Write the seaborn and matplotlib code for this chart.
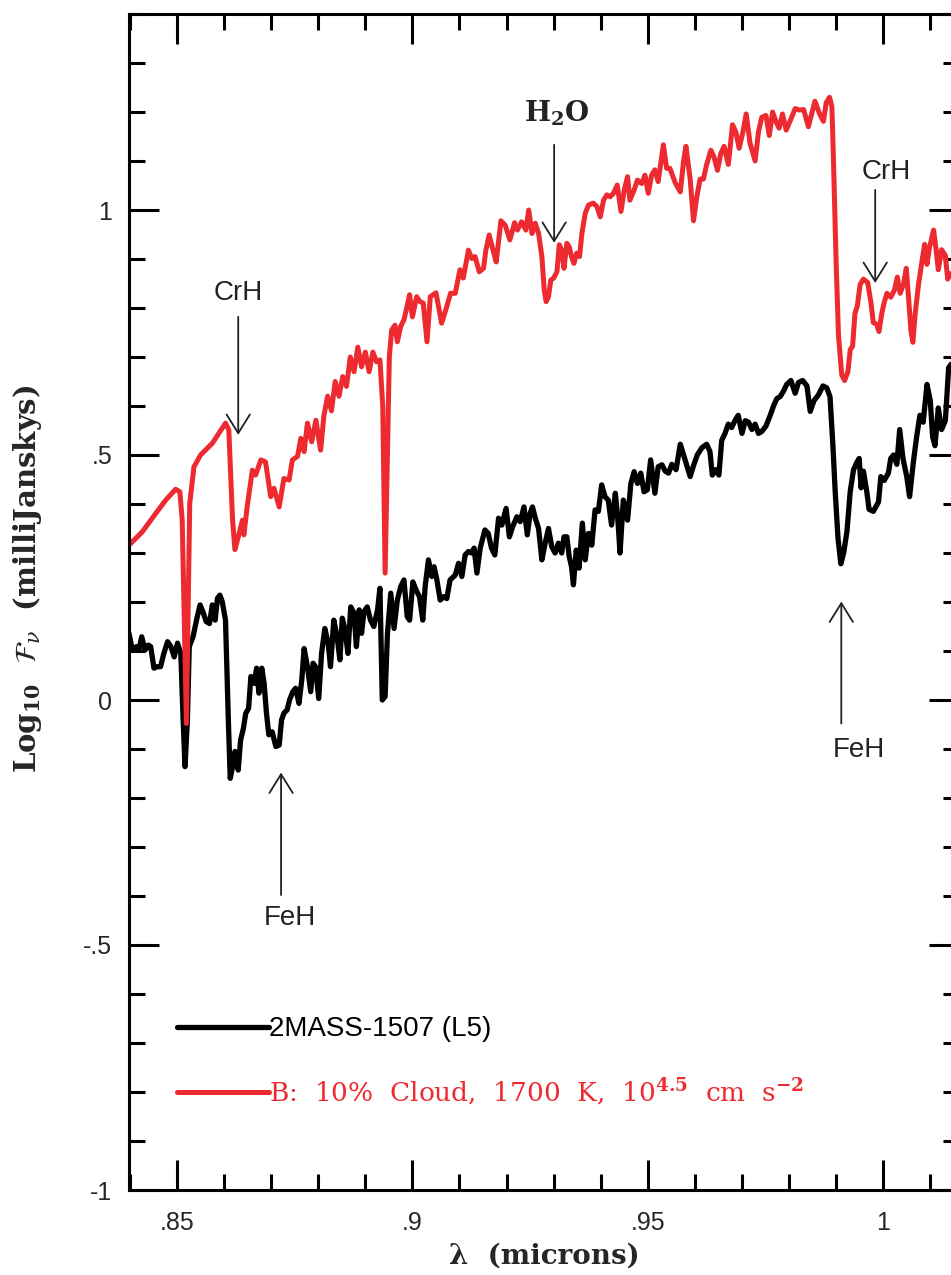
import matplotlib
matplotlib.use('Agg')
import matplotlib.pyplot as plt
import seaborn as sns
from matplotlib.ticker import MultipleLocator, FixedLocator, FuncFormatter

# ---------------- data ----------------
obs_wl = [.8398, .8405, .8414, .8419, .8425, .8432, .8439, .8444, .8451, .8458, .8465, .8472, .8480, .8487,
          .8494, .8501, .8508, .8513, .8517, .8522, .8526, .8534, .8543, .8549, .8555, .8562, .8569, .8575,
          .8581, .8586, .8591, .8596, .8603, .8609, .8613, .8618, .8623, .8630, .8635, .8641, .8646, .8652,
          .8657, .8664, .8669, .8674, .8680, .8685, .8690, .8695, .8702, .8710, .8717, .8722, .8727, .8734,
          .8739, .8746, .8752, .8759, .8765, .8770, .8777, .8784, .8789, .8794, .8801, .8807, .8814, .8821,
          .8826, .8833, .8840, .8846, .8851, .8857, .8863, .8869, .8876, .8881, .8887, .8892, .8897, .8904,
          .8911, .8918, .8926, .8931, .8936, .8942, .8947, .8954, .8961, .8968, .8975, .8982, .8989,
          .8994, .9001, .9008, .9015, .9022, .9027, .9034, .9041, .9046, .9052, .9059, .9067, .9073, .9080,
          .9091, .9098, .9105, .9112, .9119, .9126, .9131, .9137, .9144, .9154, .9161, .9168, .9175, .9183,
          .9190, .9199, .9206, .9213, .9222, .9229, .9237, .9244, .9250, .9255, .9261, .9268, .9275, .9282,
          .9289, .9296, .9303, .9310, .9317, .9322, .9328, .9333, .9338, .9342, .9348, .9354, .9361, .9367,
          .9374, .9381, .9388, .9395, .9402, .9409, .9416, .9423, .9431, .9436, .9441, .9448, .9457, .9464,
          .9471, .9478, .9485, .9492, .9499, .9506, .9515, .9522, .9530,
          .9537, .9544, .9551, .9560, .9569, .9576, .9583, .9590, .9597, .9605, .9615, .9625, .9632, .9637,
          .9644, .9651, .9657, .9664, .9671, .9678, .9685, .9692, .9700, .9707, .9714, .9721, .9728, .9735,
          .9742, .9751, .9760, .9767, .9774, .9781, .9788, .9795, .9804, .9813, .9820, .9829, .9838, .9845,
          .9853, .9862, .9872, .9880, .9887, .9893, .9898, .9904, .9910, .9916, .9923, .9930, .9937, .9944,
          .9949, .9953, .9958, .9965, .9970, .9979, .9990, .9995, 1.0002, 1.0011, 1.0016, 1.0022, 1.0029,
          1.0035, 1.0042, 1.0050, 1.0056, 1.0064, 1.0071, 1.0078, 1.0085, 1.0093, 1.0100, 1.0105, 1.0110,
          1.0117, 1.0124, 1.0132, 1.0139, 1.0144, 1.0155, 1.0165]
obs_flux = [.136, .102, .109, .102, .129, .102, .112, .109, .065, .068, .068, .095, .119, .109,
            .088, .116, .095, -.041, -.136, -.041, .109, .129, .170, .194, .180, .160, .156, .194,
            .163, .208, .214, .201, .163, -.041, -.160, -.136, -.105, -.143, -.082, -.058, -.027, -.017,
            .048, .034, .065, .014, .065, .034, -.027, -.071, -.065, -.095, -.092, -.041, -.027, -.020,
            .000, .017, .024, -.007, .041, .105, .068, .017, .075, .068, .003, .095, .146, .116,
            .068, .163, .129, .082, .167, .143, .095, .190, .177, .109, .184, .136, .180, .190,
            .163, .150, .184, .228, .000, .007, .136, .218, .146, .204, .231, .245, .170,
            .163, .241, .224, .211, .163, .231, .286, .252, .272, .245, .204, .211, .207, .245,
            .255, .279, .252, .296, .303, .300, .310, .259, .310, .347, .340, .310, .296, .371,
            .357, .391, .333, .354, .374, .364, .394, .337, .381, .394, .371, .350, .286, .320,
            .350, .313, .300, .320, .300, .333, .333, .293, .272, .235, .306, .269, .361, .286,
            .340, .316, .388, .385, .439, .415, .408, .357, .422, .374, .300, .408, .367, .442,
            .466, .442, .463, .425, .429, .490, .422, .476, .480,
            .467, .463, .481, .470, .522, .500, .478, .456, .478, .500, .515, .522, .507, .459,
            .470, .459, .530, .544, .563, .556, .570, .581, .544, .570, .567, .552, .563, .544,
            .548, .559, .581, .600, .615, .619, .630, .644, .652, .626, .648, .652, .641, .589,
            .611, .622, .641, .637, .619, .522, .426, .330, .278, .300, .344, .426, .470, .485,
            .493, .433, .467, .426, .389, .385, .404, .456, .448, .463, .493, .500, .481,
            .552, .493, .456, .415, .485, .537, .581, .567, .644, .611, .537, .519,
            .596, .552, .570, .678, .685, .670, .680]

model_wl = [.8398, .8426, .8455, .8476, .8497, .8506, .8511, .8520, .8527, .8536, .8550, .8575, .8603, .8610,
            .8618, .8623, .8632, .8639, .8642, .8649, .8660, .8667, .8678, .8688, .8699, .8706, .8717, .8727,
            .8738, .8745, .8756, .8763, .8770, .8777, .8786, .8795, .8805,
            .8812, .8820, .8828, .8836, .8844, .8852, .8860, .8868, .8876, .8884, .8892, .8900, .8908, .8916,
            .8924, .8931, .8937,
            .8942, .8951, .8956, .8963, .8968, .8975, .8982, .8987, .8994, .9000, .9009, .9016, .9023, .9031,
            .9038, .9050, .9062, .9073, .9081, .9091, .9101, .9108, .9119, .9126, .9133, .9142, .9151, .9156,
            .9163, .9172, .9178, .9188, .9197, .9207, .9217, .9223, .9232, .9241, .9247, .9254, .9261, .9268,
            .9275, .9280, .9284, .9289, .9294, .9300, .9307, .9312, .9317, .9322, .9328, .9333, .9338, .9343,
            .9349, .9355, .9360, .9367, .9374, .9384, .9392, .9399, .9406, .9413, .9420, .9427, .9435, .9443,
            .9450, .9457, .9462, .9471, .9478, .9487, .9494, .9501, .9508, .9515, .9522,
            .9533, .9540, .9547, .9558, .9569, .9576, .9581, .9590, .9597, .9604, .9611, .9618, .9625, .9634,
            .9641, .9648, .9655, .9662, .9671, .9680, .9687, .9694, .9702, .9709, .9717, .9728, .9735, .9742,
            .9751, .9758, .9765, .9772, .9779, .9786, .9794, .9802, .9813, .9822, .9831, .9841, .9848, .9855,
            .9865, .9873, .9879, .9886, .9891, .9894, .9900, .9905, .9912, .9918, .9925, .9930, .9935, .9940,
            .9945, .9951, .9958, .9967, .9974, .9979, .9986, .9991, .9997, 1.0002, 1.0008, 1.0016, 1.0024,
            1.0030, 1.0036, 1.0043, 1.0049, 1.0054, 1.0059, 1.0063, 1.0068, 1.0075, 1.0082, 1.0088, 1.0093,
            1.0098, 1.0107, 1.0112, 1.0117, 1.0124, 1.0132, 1.0137, 1.0142, 1.0155, 1.0165]
model_flux = [.316, .343, .381, .408, .430, .425, .367, -.048, .401, .476, .500, .524, .565, .551,
              .367, .307, .340, .367, .337, .394, .469, .459, .490, .486, .415, .432, .394, .452,
              .449, .490, .497, .534, .507, .565, .527, .571, .510,
              .58, .62, .59, .65, .62, .66, .64, .70, .67, .72, .68, .71, .67, .71,
              .69, .694, .60,
              .259, .701, .755, .765, .731, .762, .776, .796, .827, .782, .823, .813, .810, .731,
              .823, .831, .769, .803, .830, .830, .878, .861, .918, .901, .905, .874, .881, .918,
              .949, .915, .894, .978, .969, .939, .974, .959, .976, .959, 1.000, .952, .973, .952,
              .905, .837, .813, .823, .857, .861, .874, .929, .918, .881, .932, .925, .905, .891,
              .912, .905, .952, .993, 1.010, 1.014, 1.007, .986, 1.020, 1.031, 1.027, 1.034, 1.051, .997,
              1.041, 1.068, 1.020, 1.041, 1.061, 1.054, 1.071, 1.034, 1.071, 1.082, 1.058,
              1.133, 1.085, 1.085, 1.056, 1.037, 1.100, 1.130, 1.063, .978, 1.026, 1.063, 1.063, 1.093, 1.122,
              1.107, 1.081, 1.115, 1.130, 1.093, 1.174, 1.159, 1.126, 1.159, 1.196, 1.137, 1.100, 1.159, 1.189,
              1.193, 1.152, 1.200, 1.181, 1.167, 1.196, 1.163, 1.181, 1.207, 1.204, 1.205, 1.170, 1.196, 1.222,
              1.196, 1.181, 1.219, 1.230, 1.211, 1.115, .893, .744, .663, .652, .670, .715, .722, .789,
              .804, .848, .859, .852, .811, .770, .767, .752, .789, .811, .830, .822, .837,
              .863, .830, .848, .881, .819, .752, .730, .789, .848, .893, .930, .889,
              .922, .959, .922, .878, .919, .907, .859, .870, .860, .870]

obs_label = '2MASS-1507 (L5)'
model_label = r'B:  10%  Cloud,  1700  K,  10$^{\mathbf{4.5}}$  cm  s$^{\mathbf{-2}}$'
x_ticks = [.85, .9, .95, 1.0]
y_ticks = [-1, -.5, 0, .5, 1]

# ---------------- style ----------------
sns.set_style('ticks')
plt.rcParams['font.family'] = ['Liberation Sans', 'DejaVu Sans']
plt.rcParams['mathtext.fontset'] = 'dejavuserif'

RED = '#EC2A30'
BLACK = '#000000'

fig = plt.figure(figsize=(9.51, 12.75), dpi=100)
ax = fig.add_axes([129 / 951, 85 / 1275, 830 / 951, 1176 / 1275])

sns.lineplot(x=obs_wl, y=obs_flux, ax=ax, color=BLACK, lw=3.8, sort=False,
             estimator=None, label=obs_label)
sns.lineplot(x=model_wl, y=model_flux, ax=ax, color=RED, lw=3.6, sort=False,
             estimator=None, label=model_label)

ax.set_xlim(0.8398, 1.0161)
ax.set_ylim(-1.0, 1.4)


def strip0(v, pos=None):
    if abs(v - round(v)) < 1e-9:
        return '%d' % round(v)
    s = ('%g' % v)
    s = s.replace('0.', '.')
    return s


ax.xaxis.set_major_locator(FixedLocator(x_ticks))
ax.xaxis.set_minor_locator(MultipleLocator(0.01))
ax.yaxis.set_major_locator(FixedLocator(y_ticks))
ax.yaxis.set_minor_locator(MultipleLocator(0.1))
ax.xaxis.set_major_formatter(FuncFormatter(strip0))
ax.yaxis.set_major_formatter(FuncFormatter(strip0))

ax.tick_params(which='both', direction='in', top=True, right=True, width=2.2, color='black')
ax.tick_params(which='major', length=21.6, labelsize=18)
ax.tick_params(which='minor', length=11.5)
ax.tick_params(axis='x', which='major', pad=15)
ax.tick_params(axis='y', which='major', pad=12)
for s in ax.spines.values():
    s.set_linewidth(2.2)
    s.set_color('black')

ax.set_xlabel('λ  (microns)', family='DejaVu Serif', fontweight='bold', fontsize=20,
              va='center')
ax.set_ylabel(r'Log$_{\mathbf{10}}$  $\mathcal{F}_{\nu}$  (milliJanskys)', va='center',
              family='DejaVu Serif', fontweight='bold', fontsize=21)
ax.xaxis.set_label_coords(0.5, -0.0561)
ax.yaxis.set_label_coords(-0.1217, 0.52)

# ---------------- annotations ----------------
arrow_kw = dict(arrowstyle='->,head_length=0.45,head_width=0.28', lw=1.3, color='#222222',
                mutation_scale=30, shrinkA=0, shrinkB=0)
ann_font = dict(family='Liberation Sans', fontsize=20, ha='center', va='center', color='#222222')

ax.annotate('', xy=(.8630, .541), xytext=(.8630, .782), arrowprops=arrow_kw)
ax.text(.8630, .831, 'CrH', **ann_font)

ax.annotate('', xy=(.9983, .851), xytext=(.9983, 1.041), arrowprops=arrow_kw)
ax.text(1.0006, 1.078, 'CrH', **ann_font)

ax.annotate('', xy=(.9301, .933), xytext=(.9301, 1.133), arrowprops=arrow_kw)
ax.text(.9307, 1.198, r'$\mathbf{H_2O}$', fontsize=20, ha='center', va='center', color='#222222')

ax.annotate('', xy=(.8721, -.148), xytext=(.8721, -.398), arrowprops=arrow_kw)
ax.text(.8740, -.445, 'FeH', **ann_font)

ax.annotate('', xy=(.9911, .201), xytext=(.9911, -.048), arrowprops=arrow_kw)
ax.text(.9949, -.102, 'FeH', **ann_font)

# ---------------- legend ----------------
leg = ax.legend(loc='upper left', bbox_to_anchor=(0.0578, 0.148), frameon=False,
                handlelength=3.5, handletextpad=0.0, borderpad=0.0, borderaxespad=0.0,
                labelspacing=1.3, fontsize=19)
texts = leg.get_texts()
texts[0].set_color(BLACK)
texts[0].set_family(['Liberation Sans', 'DejaVu Sans'])
texts[0].set_fontsize(20)
texts[1].set_color(RED)
texts[1].set_family('DejaVu Serif')
texts[1].set_fontsize(19)

fig.savefig('out.png', dpi=100)
